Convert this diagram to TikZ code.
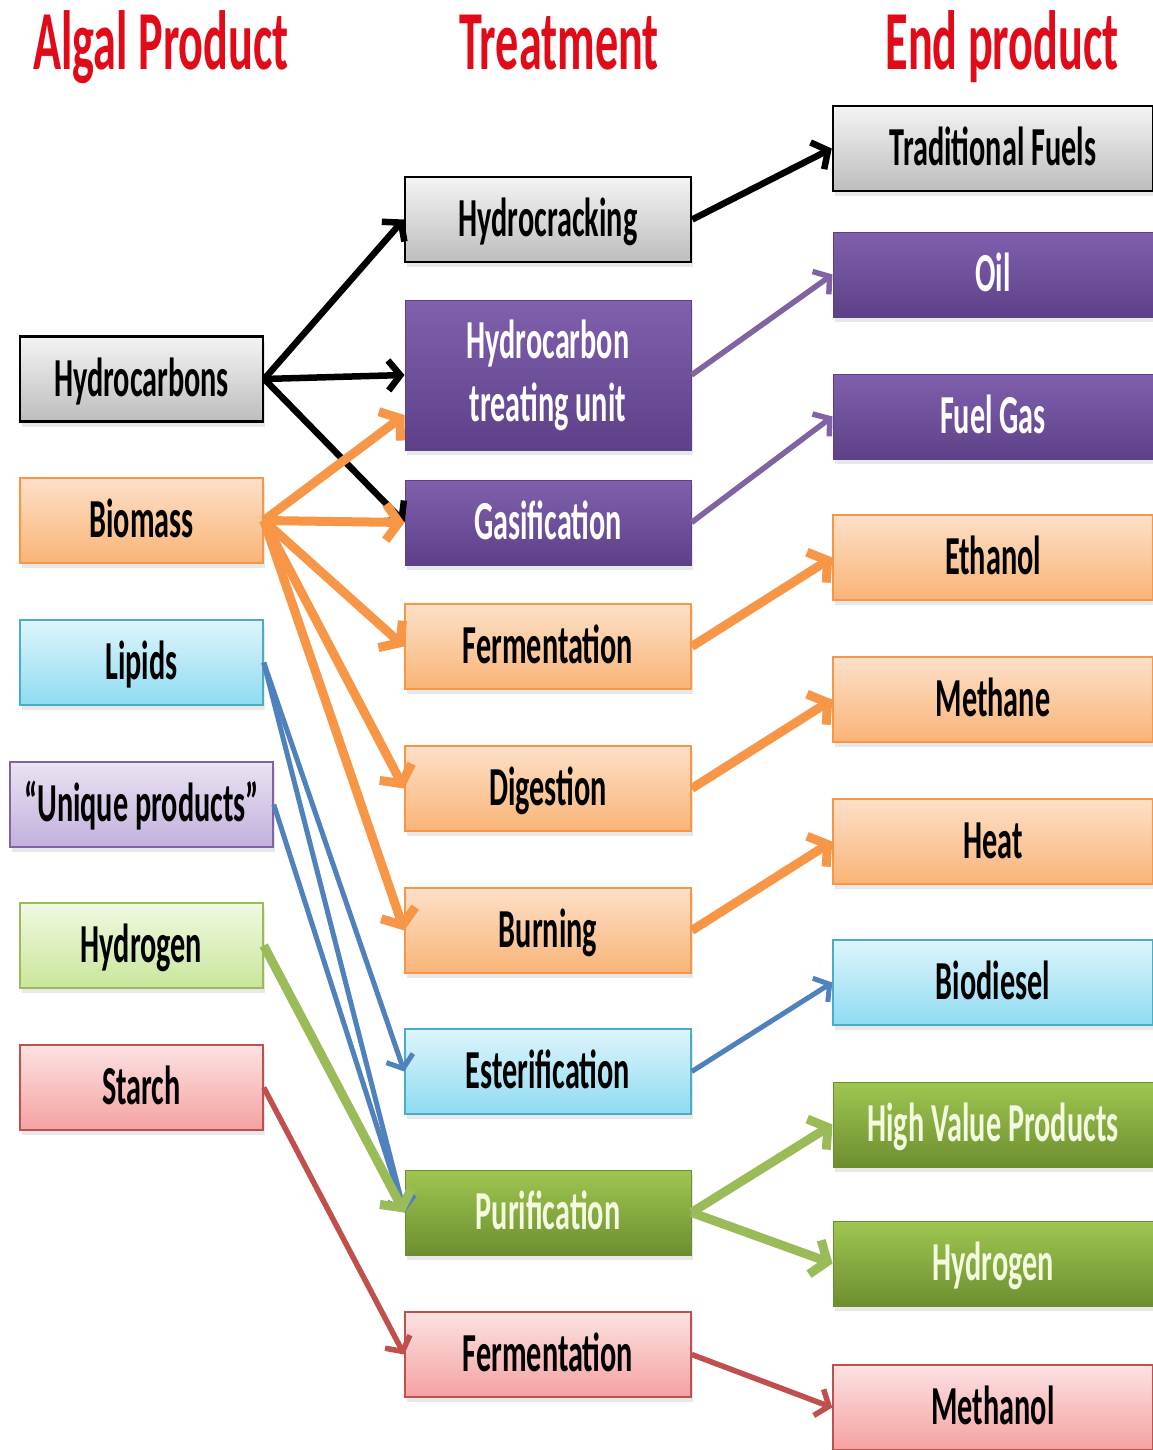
\documentclass[tikz,border=0pt]{standalone}
\usepackage{fontspec}
\setmainfont{Carlito}[FakeStretch=0.55]
\usetikzlibrary{arrows.meta,shadows}
\definecolor{titred}{HTML}{E10A19}
\definecolor{grT}{HTML}{F4F4F4}
\definecolor{grB}{HTML}{BDBDBD}
\definecolor{purT}{HTML}{8060AE}
\definecolor{purB}{HTML}{5E4088}
\definecolor{orT}{HTML}{FDE0C8}
\definecolor{orB}{HTML}{F9B477}
\definecolor{orL}{HTML}{F79646}
\definecolor{blT}{HTML}{DEF5FC}
\definecolor{blB}{HTML}{8FDBF1}
\definecolor{blL}{HTML}{4BACC6}
\definecolor{laT}{HTML}{EAE3F3}
\definecolor{laB}{HTML}{C2B0DC}
\definecolor{laL}{HTML}{8064A2}
\definecolor{lgT}{HTML}{F1F9E2}
\definecolor{lgB}{HTML}{C8E69A}
\definecolor{lgL}{HTML}{9BBB59}
\definecolor{pkT}{HTML}{FCE2E2}
\definecolor{pkB}{HTML}{F4A2A1}
\definecolor{pkL}{HTML}{C0504D}
\definecolor{gnT}{HTML}{9FC650}
\definecolor{gnB}{HTML}{6D8E30}
\definecolor{gnTxt}{HTML}{F4FADF}
\definecolor{arBlue}{HTML}{4F81BD}
\definecolor{arPur}{HTML}{8064A2}
\definecolor{arGrn}{HTML}{9BBB59}
\definecolor{arRed}{HTML}{C0504D}
\begin{document}
\begin{tikzpicture}[x=1pt,y=-1pt,
  title/.style={font=\fontsize{84}{90}\selectfont\bfseries, text=titred, anchor=base, inner sep=0pt},
  box/.style={rectangle, inner sep=0pt, minimum height=85pt,
    font=\fontsize{55}{63}\selectfont\bfseries, align=center,
    drop shadow={shadow xshift=2pt,shadow yshift=-5pt,opacity=0.18}},
  oneline/.style={text height=34.8pt, text depth=0pt},
  lbox/.style={box, oneline, minimum width=243pt},
  mbox/.style={box, minimum width=286pt},
  rbox/.style={box, oneline, minimum width=320pt},
  grayc/.style={draw=black, line width=2.5pt, top color=grT, bottom color=grB},
  purc/.style={draw=purB, line width=1pt, top color=purT, bottom color=purB, text=white},
  orc/.style={draw=orL, line width=1.5pt, top color=orT, bottom color=orB},
  blc/.style={draw=blL, line width=1.5pt, top color=blT, bottom color=blB},
  lac/.style={draw=laL, line width=1.5pt, top color=laT, bottom color=laB},
  lgc/.style={draw=lgL, line width=1.5pt, top color=lgT, bottom color=lgB},
  pkc/.style={draw=pkL, line width=1.5pt, top color=pkT, bottom color=pkB},
  gnc/.style={draw=gnB, line width=1pt, top color=gnT, bottom color=gnB, text=gnTxt},
  ablk/.style={draw=black, line width=6.5pt, -{Straight Barb[length=12pt,width=30pt]}},
  aorg/.style={draw=orL, line width=9pt, -{Straight Barb[length=13pt,width=36pt]}},
  ablu/.style={draw=arBlue, line width=5pt, -{Straight Barb[length=11pt,width=28pt]}},
  apur/.style={draw=arPur, line width=5.5pt, -{Straight Barb[length=11pt,width=28pt]}},
  agrn/.style={draw=arGrn, line width=9pt, -{Straight Barb[length=13pt,width=36pt]}},
  ared/.style={draw=arRed, line width=5.5pt, -{Straight Barb[length=11pt,width=28pt]}}
]
\useasboundingbox (0,0) rectangle (1153,1450);
\fill[white] (0,0) rectangle (1153,1450);

% titles
\node[title] (t1) at (161,70) {Algal Product};
\node[title] (t2) at (559,70) {Treatment};
\node[title] (t3) at (1002,70) {End product};

% left column
\node[lbox, grayc] (hc)  at (141.5,379)    {Hydrocarbons};
\node[lbox, orc]   (bio) at (141.5,520.5)  {Biomass};
\node[lbox, blc]   (lip) at (141.5,662.5)  {Lipids};
\node[lbox, lac, minimum width=263pt] (uni) at (141.5,804.5) {“Unique products”};
\node[lbox, lgc]   (hyl) at (141.5,945.5)  {Hydrogen};
\node[lbox, pkc]   (sta) at (141.5,1087.5) {Starch};

% middle column
\node[mbox, oneline, grayc] (hcr)  at (548,219.5)  {Hydrocracking};
\node[mbox, purc, minimum height=150pt] (htu) at (548,375) {Hydrocarbon\\treating unit};
\node[mbox, oneline, purc]  (gas)  at (548,522.5)  {Gasification};
\node[mbox, oneline, orc]   (fer)  at (548,646.5)  {Fermentation};
\node[mbox, oneline, orc]   (dig)  at (548,788.5)  {Digestion};
\node[mbox, oneline, orc]   (bur)  at (548,930.5)  {Burning};
\node[mbox, oneline, blc]   (est)  at (548,1071.5) {Esterification};
\node[mbox, oneline, gnc]   (pur)  at (548,1212.5) {Purification};
\node[mbox, oneline, pkc]   (fer2) at (548,1354.5) {Fermentation};

% right column
\node[rbox, grayc] (tf)   at (993,148.5)  {Traditional Fuels};
\node[rbox, purc]  (oil)  at (993,274.5)  {Oil};
\node[rbox, purc]  (fg)   at (993,416.5)  {Fuel Gas};
\node[rbox, orc]   (eth)  at (993,557.5)  {Ethanol};
\node[rbox, orc]   (met)  at (993,699.5)  {Methane};
\node[rbox, orc]   (heat) at (993,841.5)  {Heat};
\node[rbox, blc]   (bd)   at (993,982.5)  {Biodiesel};
\node[rbox, gnc]   (hvp)  at (993,1124.5) {High Value Products};
\node[rbox, gnc]   (hyr)  at (993,1263.5) {Hydrogen};
\node[rbox, pkc]   (mol)  at (993,1407.5) {Methanol};

% connectors left -> middle
\draw[ablk] (hc.east) -- (hcr.west);
\draw[ablk] (hc.east) -- (htu.west);
\draw[ablk] (hc.east) -- (gas.west);
\draw[aorg] (bio.east) -- ([yshift=-40pt]htu.west);
\draw[aorg] (bio.east) -- (gas.west);
\draw[aorg] (bio.east) -- (fer.west);
\draw[aorg] (bio.east) -- (dig.west);
\draw[aorg] (bio.east) -- (bur.west);
\draw[ablu] (lip.east) -- (est.west);
\draw[ablu] (lip.east) -- (pur.west);
\draw[ablu] (uni.east) -- (pur.west);
\draw[agrn] (hyl.east) -- (pur.west);
\draw[ared] (sta.east) -- (fer2.west);

% connectors middle -> right
\draw[ablk] (hcr.east) -- (tf.west);
\draw[apur] (htu.east) -- (oil.west);
\draw[apur] (gas.east) -- (fg.west);
\draw[aorg] (fer.east) -- (eth.west);
\draw[aorg] (dig.east) -- (met.west);
\draw[aorg] (bur.east) -- (heat.west);
\draw[ablu] (est.east) -- (bd.west);
\draw[agrn] (pur.east) -- (hvp.west);
\draw[agrn] (pur.east) -- (hyr.west);
\draw[ared] (fer2.east) -- (mol.west);
\end{tikzpicture}
\end{document}
